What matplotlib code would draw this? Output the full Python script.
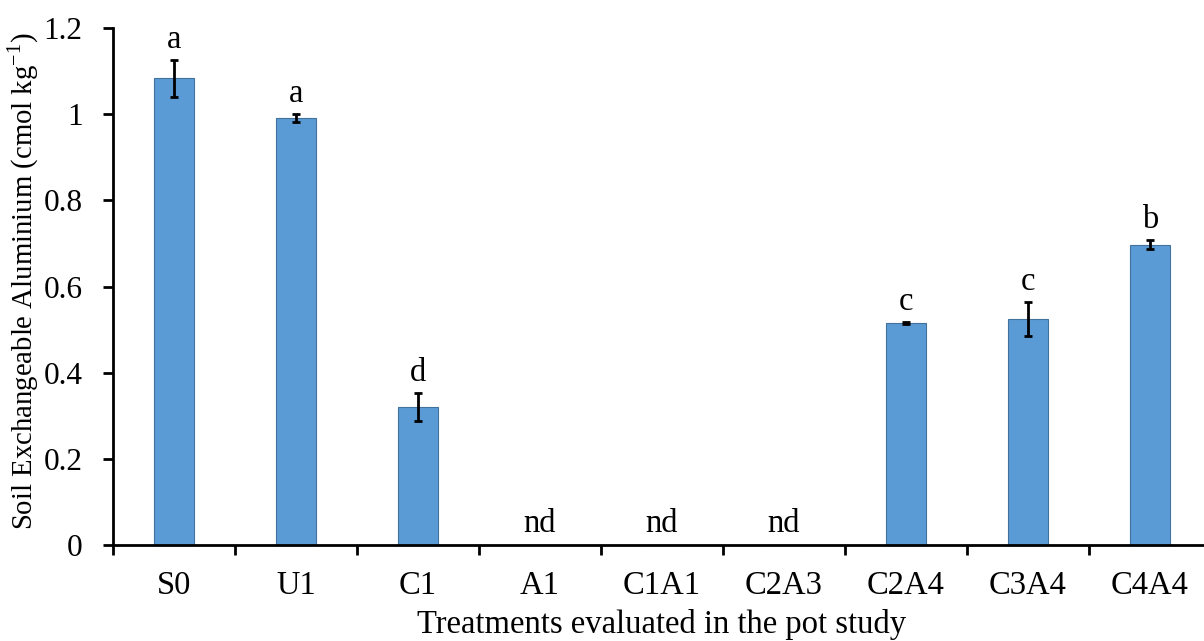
import matplotlib
matplotlib.use("Agg")
import matplotlib.pyplot as plt
import numpy as np

treatments = ["S0", "U1", "C1", "A1", "C1A1", "C2A3", "C2A4", "C3A4", "C4A4"]
exch_al = [1.083, 0.991, 0.32, 0.0, 0.0, 0.0, 0.515, 0.524, 0.697]
exch_al_err = [0.042, 0.010, 0.032, 0.0, 0.0, 0.0, 0.002, 0.040, 0.011]
letters = ["a", "a", "d", "nd", "nd", "nd", "c", "c", "b"]

plt.rcParams["font.family"] = ["Liberation Serif", "DejaVu Serif"]
plt.rcParams["mathtext.fontset"] = "custom"
plt.rcParams["mathtext.rm"] = "Liberation Serif"

fig = plt.figure(figsize=(12.04, 6.41), dpi=100)
ax = fig.add_axes([113 / 1204, 1 - 545 / 641, 1098 / 1204, (545 - 28) / 641])

x = np.arange(len(treatments))
ax.bar(x, exch_al, width=0.33, color="#5B9BD5", edgecolor="#41719C", linewidth=0.8, zorder=2)
for xi, v, e in zip(x, exch_al, exch_al_err):
    if v > 0:
        ax.errorbar(xi, v, yerr=e, fmt="none", ecolor="black", elinewidth=2,
                    capsize=3, capthick=2, zorder=3)

for xi, v, e, lab in zip(x, exch_al, exch_al_err, letters):
    if lab == "nd":
        ax.text(xi, 0.015, lab, ha="center", va="bottom", fontsize=23.5)
    else:
        ax.text(xi, v + e + 0.012, lab, ha="center", va="bottom", fontsize=23.5)

ax.set_xlim(-0.5, len(treatments) - 0.5)
ax.set_ylim(0, 1.2)
ax.set_yticks(np.arange(0, 1.21, 0.2))
ax.set_yticklabels(["0", "0.2", "0.4", "0.6", "0.8", "1", "1.2"])

# category boundaries carry the visible ticks; labels sit at bar centres
ax.set_xticks(np.arange(-0.5, len(treatments), 1.0))
ax.set_xticklabels([])
ax.set_xticks(x, minor=True)
ax.set_xticklabels(treatments, minor=True)
ax.tick_params(axis="x", which="major", direction="out", length=7, width=2)
ax.tick_params(axis="x", which="minor", length=0, pad=18, labelsize=23.5)
ax.tick_params(axis="y", direction="out", length=7, width=2, labelsize=22.5, pad=15)

for side in ("top", "right"):
    ax.spines[side].set_visible(False)
for side in ("left", "bottom"):
    ax.spines[side].set_linewidth(2)

ax.set_xlabel("Treatments evaluated in the pot study", fontsize=23.5, labelpad=6)
ax.set_ylabel("Soil Exchangeable Aluminium (cmol kg$^{\u2212\\mathrm{1}}$)", fontsize=20.7)
ax.yaxis.set_label_coords(-0.066, 0.51)

fig.savefig("out.png", dpi=100)
